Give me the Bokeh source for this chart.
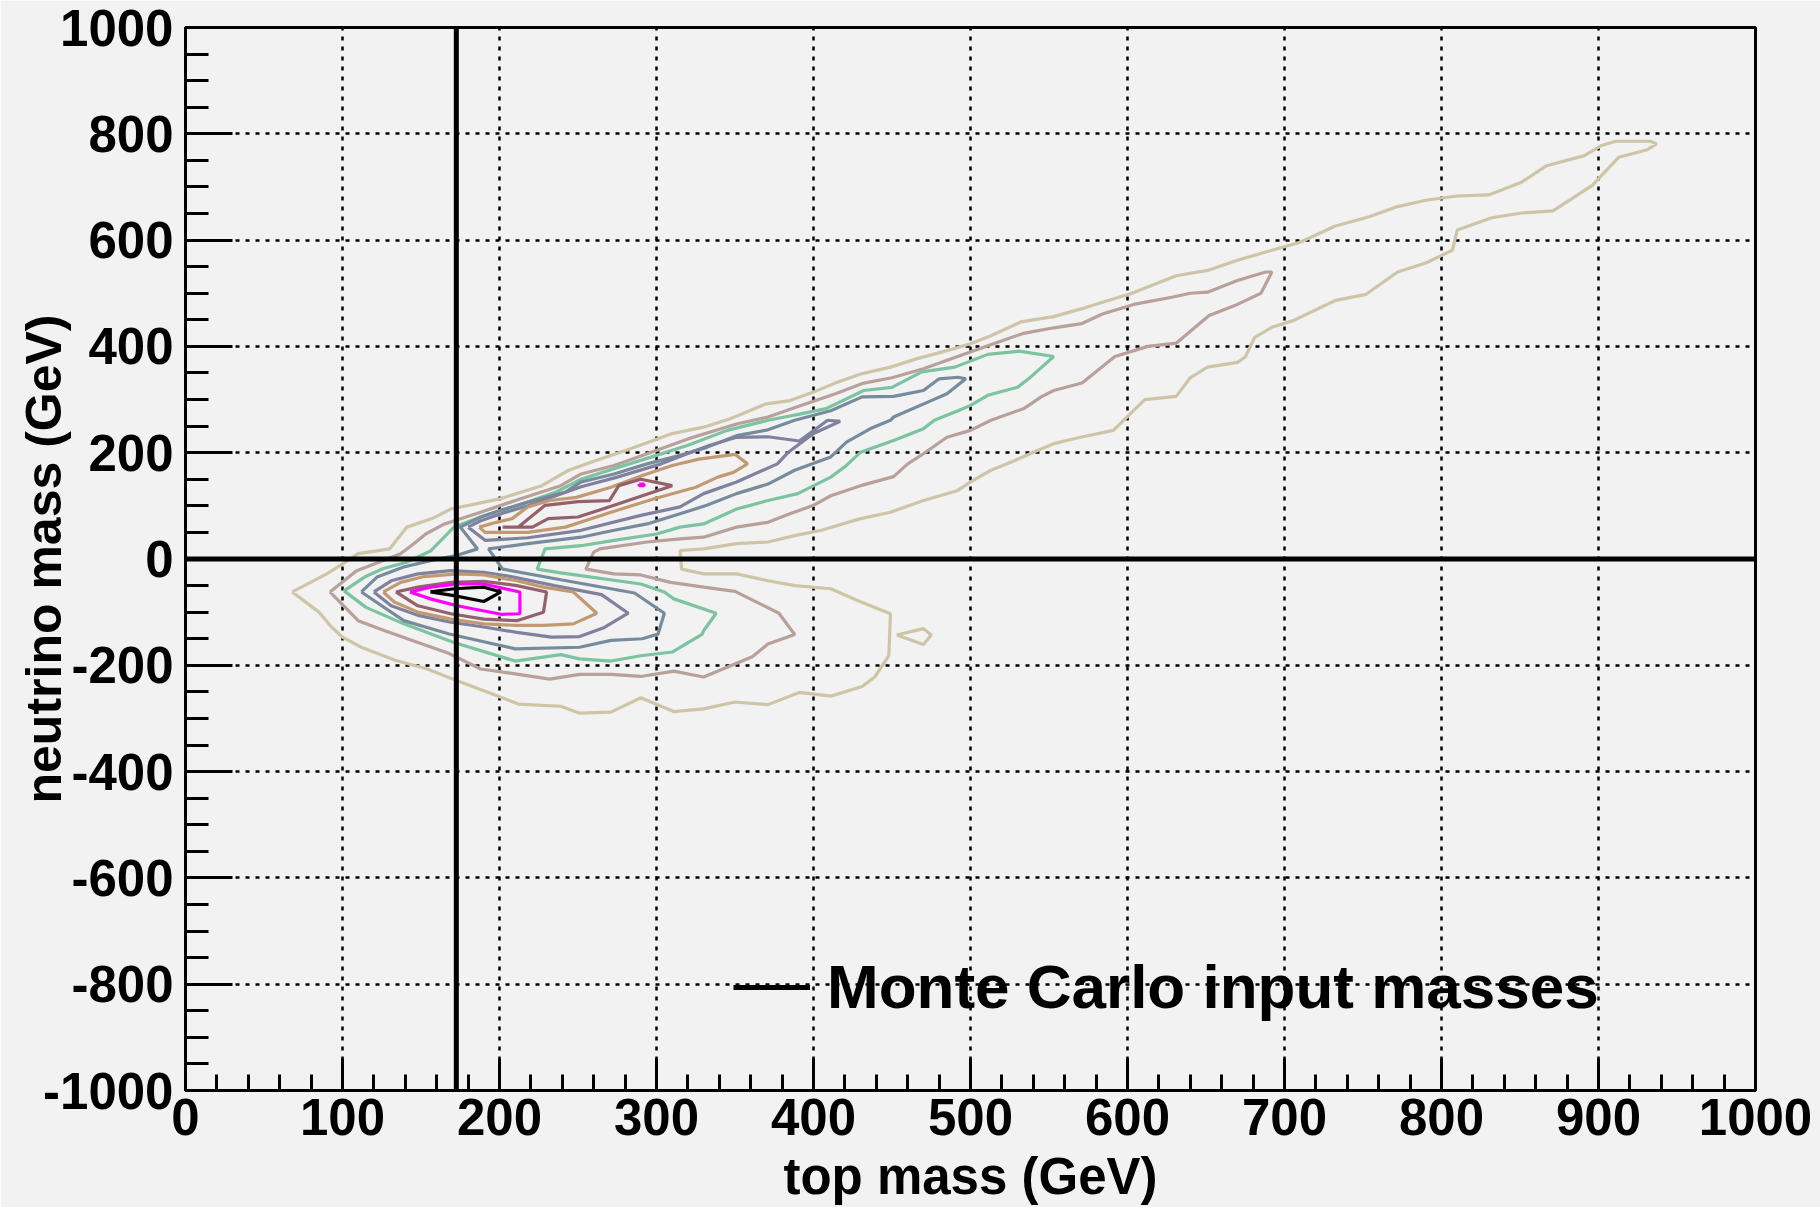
from bokeh.plotting import figure
from bokeh.models import Range1d, FixedTicker, Legend, LegendItem
from bokeh.embed import file_html
from bokeh.resources import INLINE

# ---------------- data ----------------
x_lo, x_hi = 0, 1000
y_lo, y_hi = -1000, 1000
x_major = list(range(0, 1001, 100))
x_minor = list(range(0, 1001, 20))
y_major = list(range(-1000, 1001, 200))
y_minor = list(range(-1000, 1001, 50))
x_tick_labels = {t: str(t) for t in x_major}
y_tick_labels = {t: str(t) for t in y_major}   # plain hyphen minus, as in the original

mc_top_mass = 172.5
mc_nu_mass = 0.0
legend_text = "Monte Carlo input masses"
x_title = "top mass (GeV)"
y_title = "neutrino mass (GeV)"

# contour rings (top mass, neutrino mass), outermost level first
tan_main = [(68,-62),(90,-28),(100,-9),(110,10),(130,19),(141,60),(157,76),(169,94),(200,113),(227,138),
            (244,167),(261,185),(283,207),(310,236),(330,248),(347,264),(370,292),(385,298),(400,314),(413,330),
            (430,348),(449,361),(466,377),(485,392),(500,405),(513,420),(532,446),(553,456),(571,471),(584,483),
            (602,499),(631,533),(651,543),(670,562),(692,581),(710,596),(732,626),(754,644),(772,663),(790,675),
            (810,683),(830,685),(851,709),(867,740),(891,759),(902,778),(911,786),(933,786),(937,781),(931,770),
            (913,756),(896,703),(871,655),(851,651),(832,642),(810,619),(807,581),(790,557),(772,540),(752,498),
            (732,486),(706,449),(692,436),(681,417),(675,380),(670,370),(651,361),(640,341),(631,306),(611,300),
            (591,242),(570,229),(553,217),(540,201),(528,185),(513,167),(500,145),(492,129),(470,110),(449,88),
            (430,76),(405,54),(388,44),(371,32),(351,29),(330,19),(315,16),(316,-19),(330,-28),(351,-28),
            (371,-41),(388,-50),(411,-56),(428,-78),(449,-103),(448,-182),(439,-222),(431,-240),(411,-258),
            (391,-251),(371,-274),(350,-269),(330,-282),(311,-287),(290,-261),(271,-288),(251,-290),(239,-277),
            (212,-273),(193,-251),(173,-229),(154,-207),(134,-191),(112,-166),(100,-147),(93,-128),(85,-100),(68,-62)]
tan_island = [(453,-143),(470,-131),(475,-143),(470,-161),(453,-143)]

mauve_main = [(92,-62),(109,-22),(126,-3),(137,10),(146,30),(153,47),(165,66),(188,88),(213,113),(239,138),
              (252,160),(273,176),(294,198),(320,226),(351,254),(371,267),(392,289),(414,311),(432,331),(450,341),
              (470,358),(490,379),(512,402),(533,424),(553,435),(571,443),(584,461),(604,479),(629,493),(640,500),
              (651,502),(670,524),(688,540),(692,540),(685,500),(670,479),(652,458),(631,406),(613,400),(592,381),
              (571,331),(553,317),(545,305),(534,283),(513,261),(500,242),(485,229),(470,198),(460,179),(451,155),
              (430,138),(411,119),(400,101),(385,85),(371,69),(351,60),(330,41),(315,38),(294,32),(264,19),
              (260,13),(255,-19),(273,-28),(290,-30),(309,-44),(330,-53),(350,-61),(378,-102),(388,-142),(371,-160),
              (361,-184),(330,-222),(311,-211),(290,-221),(271,-217),(251,-217),(232,-226),(210,-216),(188,-207),
              (168,-178),(144,-153),(127,-135),(110,-116),(92,-62)]

green_main = [(101,-60),(114,-34),(126,-18),(141,-6),(156,15),(171,60),(188,79),(212,101),(236,126),(252,150),
              (273,170),(300,195),(320,214),(345,242),(371,261),(392,273),(408,283),(432,317),(450,323),(469,352),
              (490,361),(511,385),(531,391),(553,381),(537,339),(530,323),(511,308),(500,289),(492,279),(477,261),
              (470,245),(451,223),(430,201),(421,176),(411,154),(390,123),(371,110),(351,94),(330,66),(315,60),
              (300,47),(273,35),(252,25),(229,19),(224,-19),(239,-26),(290,-47),(305,-62),(311,-75),(338,-102),
              (330,-135),(329,-142),(310,-175),(290,-182),(271,-192),(251,-188),(239,-180),(210,-192),(171,-157),
              (139,-122),(115,-91),(101,-60)]

slate_main = [(112,-62),(122,-34),(139,-15),(156,-3),(173,7),(186,19),(175,60),(188,79),(200,91),(218,107),
              (242,126),(252,145),(273,160),(294,179),(315,195),(332,210),(351,232),(371,243),(388,261),(411,279),
              (431,305),(451,306),(470,317),(480,339),(492,342),(497,339),(485,311),(475,298),(451,267),(449,261),
              (436,245),(421,220),(411,192),(388,167),(371,141),(351,123),(332,101),(315,85),(294,66),(273,54),
              (252,41),(218,29),(193,19),(202,-19),(239,-39),(286,-64),(305,-102),(301,-141),(291,-150),(271,-153),
              (251,-166),(210,-169),(168,-141),(139,-116),(112,-62)]

purple_low = [(120,-62),(131,-41),(148,-28),(169,-22),(190,-25),(209,-34),(235,-50),(265,-67),(282,-102),
              (266,-130),(251,-146),(233,-147),(211,-138),(190,-128),(169,-119),(148,-106),(131,-88),(120,-62)]
purple_up = [(180,60),(188,72),(203,87),(218,100),(252,136),(275,154),(303,179),(317,195),(334,214),(351,229),
             (371,230),(391,222),(409,261),(417,259),(400,236),(384,201),(377,179),(351,145),(330,123),(315,98),
             (290,82),(252,54),(218,40),(191,35),(180,60)]

brown_low = [(126,-62),(137,-44),(152,-33),(173,-28),(190,-30),(211,-41),(228,-53),(247,-62),(262,-102),
             (247,-122),(228,-125),(211,-125),(190,-122),(169,-113),(148,-100),(133,-81),(126,-62)]
brown_up = [(187,60),(191,50),(218,50),(242,60),(271,88),(298,113),(325,135),(339,154),(349,163),(358,179),
            (350,197),(327,188),(310,176),(291,157),(271,135),(249,116),(232,110),(218,98),(208,76),(198,69),(187,60)]

wine_low = [(134,-62),(148,-53),(169,-44),(190,-42),(211,-50),(230,-62),(228,-100),(211,-116),(190,-113),
            (169,-103),(148,-88),(134,-62)]
wine_up = [(202,60),(221,60),(231,76),(250,79),(273,101),(310,138),(290,150),(276,138),(270,110),(250,108),
           (229,101),(212,60),(202,60)]

magenta_low = [(143,-62),(156,-53),(173,-47),(190,-47),(213,-62),(213,-103),(201,-104),(173,-88),(156,-75),(143,-62)]
magenta_dot = [(289,141),(292,141),(292,138),(289,138),(289,141)]

black_core = [(156,-62),(171,-56),(190,-53),(201,-62),(190,-80),(171,-69),(156,-62)]

levels = [
    ([tan_main, tan_island], "#cdc5a6"),
    ([mauve_main], "#b8a09b"),
    ([green_main], "#7cc3a2"),
    ([slate_main], "#768c9c"),
    ([purple_low, purple_up], "#80809f"),
    ([brown_low, brown_up], "#c29a72"),
    ([wine_low, wine_up], "#93606c"),
    ([magenta_low, magenta_dot], "#ff00ff"),
    ([black_core], "#000000"),
]

# ---------------- figure ----------------
BG = "#f2f2f2"
FONT = "Liberation Sans"

p = figure(width=1820, height=1207, x_range=Range1d(x_lo, x_hi), y_range=Range1d(y_lo, y_hi),
           output_backend="svg", toolbar_location=None,
           min_border_left=185, min_border_right=65, min_border_top=27, min_border_bottom=117,
           background_fill_color=BG, border_fill_color=BG,
           outline_line_color="black", outline_line_width=3)
p.title.visible = False

p.xaxis.ticker = FixedTicker(ticks=x_major, minor_ticks=x_minor)
p.yaxis.ticker = FixedTicker(ticks=y_major, minor_ticks=y_minor)
p.xaxis.major_label_overrides = x_tick_labels
p.yaxis.major_label_overrides = y_tick_labels
p.xaxis.major_tick_in = 32
p.xaxis.minor_tick_in = 16
p.yaxis.major_tick_in = 47
p.yaxis.minor_tick_in = 23
for ax in (p.xaxis, p.yaxis):
    ax.major_tick_out = 0
    ax.minor_tick_out = 0
    ax.axis_line_width = 3
    ax.axis_line_color = "black"
    ax.major_tick_line_width = 3
    ax.minor_tick_line_width = 3
    ax.major_tick_line_color = "black"
    ax.minor_tick_line_color = "black"
    ax.major_label_text_font = FONT
    ax.major_label_text_font_size = "51px"
    ax.major_label_text_font_style = "bold"
    ax.major_label_text_color = "black"
    ax.axis_label_text_font = FONT
    ax.axis_label_text_font_style = "bold"
    ax.axis_label_text_color = "black"
p.xaxis.major_label_standoff = 8
p.yaxis.major_label_standoff = 12

p.xaxis.axis_label = x_title
p.xaxis.axis_label_text_font_size = "51px"
p.xaxis.axis_label_standoff = 10
p.yaxis.axis_label = y_title
p.yaxis.axis_label_text_font_size = "50px"
p.yaxis.axis_label_standoff = -32

p.xgrid.ticker = FixedTicker(ticks=x_major)
p.ygrid.ticker = FixedTicker(ticks=y_major)
p.grid.grid_line_color = "black"
p.grid.grid_line_dash = "4 6"
p.grid.grid_line_width = 2.5

for rings, col in levels:
    p.multi_line(xs=[[pt[0] for pt in r] for r in rings],
                 ys=[[pt[1] for pt in r] for r in rings],
                 line_color=col, line_width=3.2)

mc_v = p.line([mc_top_mass, mc_top_mass], [y_lo, y_hi], line_color="black", line_width=5)
p.line([x_lo, x_hi], [mc_nu_mass, mc_nu_mass], line_color="black", line_width=5)

leg = Legend(items=[LegendItem(label=legend_text, renderers=[mc_v])],
             location=(548, 68), padding=0, margin=0, spacing=0,
             glyph_width=77, glyph_height=70, label_height=70, label_standoff=17,
             label_text_font=FONT, label_text_font_size="62px", label_text_font_style="bold",
             label_text_color="black", border_line_alpha=0, background_fill_alpha=0)
p.add_layout(leg)

open("out.html", "w").write(file_html(p, INLINE))
